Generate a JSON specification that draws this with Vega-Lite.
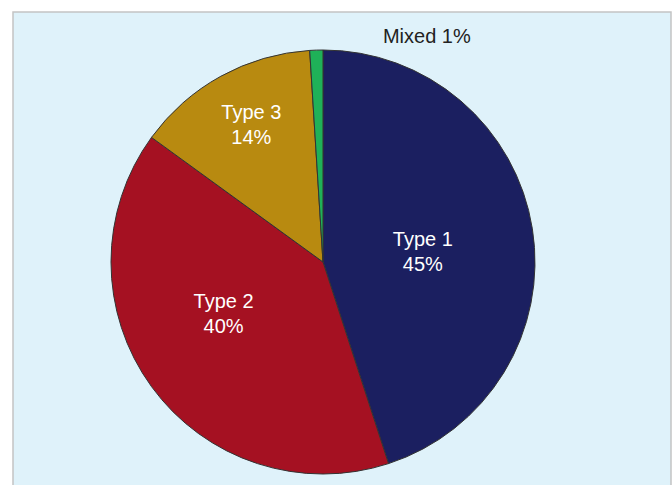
{
  "$schema": "https://vega.github.io/schema/vega-lite/v6.json",
  "width": 658,
  "height": 500,
  "autosize": "none",
  "padding": {"left": 13, "top": 12, "right": 1, "bottom": 0},
  "background": "white",
  "view": {"fill": "#dff2fa", "stroke": "#c4c4c4", "strokeWidth": 1.5},
  "config": {
    "font": "Liberation Sans"
  },
  "data": {
    "values": [
      {"type": "Type 1", "pct": 45, "label": "Type 1\n45%", "rank": 1},
      {"type": "Type 2", "pct": 40, "label": "Type 2\n40%", "rank": 2},
      {"type": "Type 3", "pct": 14, "label": "Type 3\n14%", "rank": 3},
      {"type": "Mixed", "pct": 1, "label": "Mixed 1%", "rank": 4}
    ]
  },
  "encoding": {
    "theta": {"field": "pct", "type": "quantitative", "stack": true},
    "order": {"field": "rank", "type": "quantitative"}
  },
  "layer": [
    {
      "mark": {"type": "arc", "outerRadius": 212, "xOffset": -19, "stroke": "#333333", "strokeWidth": 1},
      "encoding": {
        "color": {
          "field": "type",
          "type": "nominal",
          "scale": {
            "domain": ["Type 1", "Type 2", "Type 3", "Mixed"],
            "range": ["#1b1f60", "#a51122", "#b88a10", "#1fb158"]
          },
          "legend": null
        }
      }
    },
    {
      "mark": {
        "type": "text",
        "xOffset": -19,
        "lineBreak": "\n",
        "fontSize": 20,
        "lineHeight": 25,
        "baseline": "middle",
        "radius": {"expr": "datum.type === 'Type 3' ? 157 : datum.type === 'Mixed' ? 226 : datum.type === 'Type 2' ? 113 : 98"},
        "align": {"expr": "datum.type === 'Mixed' ? 'left' : 'center'"},
        "dx": {"expr": "datum.type === 'Mixed' ? 67 : datum.type === 'Type 2' ? -8 : datum.type === 'Type 3' ? 4 : 3"},
        "dy": {"expr": "datum.type === 'Type 2' ? -26 : datum.type === 'Type 3' ? -11 : datum.type === 'Mixed' ? 1 : -7"},
        "fill": {"expr": "datum.type === 'Mixed' ? '#222222' : '#ffffff'"}
      },
      "encoding": {
        "text": {"field": "label", "type": "nominal"}
      }
    }
  ]
}
